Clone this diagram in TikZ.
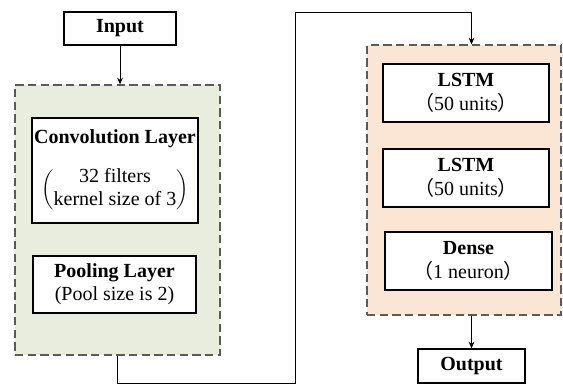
\documentclass[tikz,border=0pt]{standalone}
\usepackage{fontspec}
\setmainfont{Liberation Serif}
\newfontfamily\cjk{Noto Sans CJK SC}
\usetikzlibrary{arrows.meta}
\usetikzlibrary{calc}

\definecolor{convgreen}{RGB}{233,237,222}
\definecolor{lstmorange}{RGB}{251,230,214}
\definecolor{dashgray}{RGB}{90,90,90}

\newcommand{\fw}[1]{{\cjk #1}}

\begin{document}
\begin{tikzpicture}[
	x = 0.6pt, y = -0.6pt,
	layer/.style = {
	  draw, thick, black, fill = white,
	  align = center, inner sep = 0pt,
	  font = \fontsize{12}{14}\selectfont,
	},
	group/.style = {
	  draw = dashgray, line width = 0.8pt,
	  dash pattern = on 5pt off 2.6pt,
	  inner sep = 0pt,
	},
	flow/.style = {
	  line width = 0.6pt, black,
	  -{Stealth[length = 4pt, width = 3.5pt]},
	},
  ]
  \useasboundingbox (0,0) rectangle (563,388);

  % containers
  \node[group, fill = convgreen, minimum width = 205*0.6pt,
	minimum height = 270*0.6pt] (green) at (117.5, 220) {};
  \node[group, fill = lstmorange, minimum width = 194*0.6pt,
	minimum height = 270*0.6pt] (orange) at (464, 180) {};

  % layers
  \node[layer, minimum width = 112*0.6pt, minimum height = 33*0.6pt]
	(input) at (120, 28.5) {\textbf{Input}};
  \node[layer, minimum width = 166*0.6pt, minimum height = 105*0.6pt]
	(conv) at (115, 170.5) {\textbf{Convolution Layer}\\[11pt]
	$\left(\renewcommand{\arraystretch}{0.95}%
	\begin{tabular}{@{}c@{}}32 filters\\kernel size of 3\end{tabular}\right)$};
  \node[layer, minimum width = 163*0.6pt, minimum height = 57*0.6pt]
	(pool) at (114.5, 284.5) {\textbf{Pooling Layer}\\(Pool size is 2)};

  \foreach \name/\cy/\title/\sub in {
	  lstma/93/LSTM/50 units,
	  lstmb/178/LSTM/50 units} {
	\node[layer, minimum width = 166*0.6pt, minimum height = 58*0.6pt]
	  (\name) at (466, \cy) {\textbf{\title}\\\fw{（}\sub\fw{）}};
  }
  \node[layer, minimum width = 167*0.6pt, minimum height = 58*0.6pt]
	(dense) at (468.5, 261) {\textbf{Dense}\\\fw{（}1 neuron\fw{）}};
  \node[layer, minimum width = 107*0.6pt, minimum height = 34*0.6pt]
	(output) at (471.5, 366) {\textbf{Output}};

  % connectors
  \coordinate (low) at (295, 383);
  \coordinate (high) at (295, 13);

  \draw[flow] (input) -- (input |- green.north);
  \draw[flow] (green.south) |- (low) -- (high) -| (output |- orange.north);
  \draw[flow] (output |- orange.south) -- (output.north);
\end{tikzpicture}
\end{document}
